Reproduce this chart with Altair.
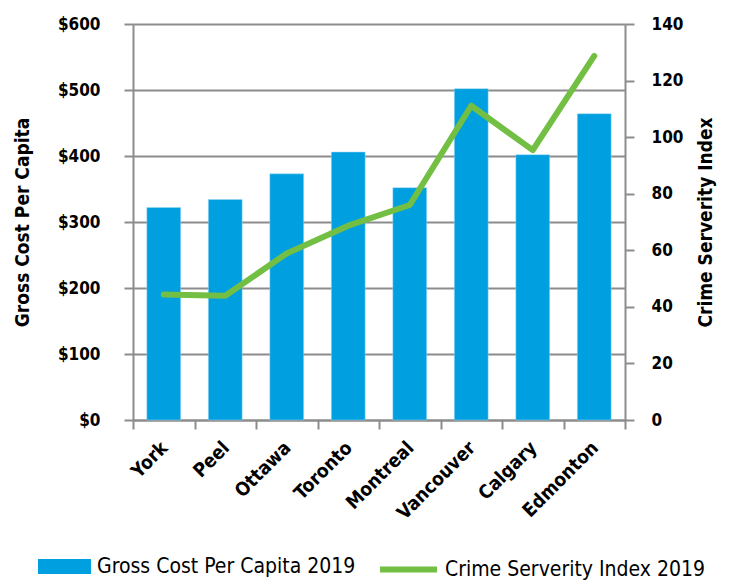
import altair as alt
import pandas as pd

cities = ["York", "Peel", "Ottawa", "Toronto", "Montreal", "Vancouver", "Calgary", "Edmonton"]
gross_cost = [322, 334, 373, 406, 352, 502, 402, 464]
crime_index = [44.4, 43.9, 58.9, 68.7, 76.0, 111.1, 95.4, 128.7]

bar_label = "Gross Cost Per Capita 2019"
line_label = "Crime Serverity Index 2019"
left_title = "Gross Cost Per Capita"
right_title = "Crime Serverity Index"

BLUE = "#009FDF"
GREEN = "#72BF44"
GRAY = "#8C8C8C"
FONT = "Liberation Sans Narrow, DejaVu Sans Condensed, DejaVu Sans, sans-serif"

df = pd.DataFrame({"city": cities, "cost": gross_cost, "csi": crime_index})

x_enc = alt.X(
    "city:N",
    sort=cities,
    title=None,
    scale=alt.Scale(paddingInner=0, paddingOuter=0),
    axis=alt.Axis(
        labelAngle=-45, labelAlign="right", labelBaseline="top",
        tickBand="extent", labelPadding=9, labelOffset=-6, grid=False,
        labelFontSize=19,
    ),
)

bars = (
    alt.Chart(df)
    .transform_calculate(series=f"'{bar_label}'")
    .mark_bar(stroke="#9fd8f2", strokeWidth=0.5, width=alt.RelativeBandSize(0.55))
    .encode(
        x=x_enc,
        y=alt.Y(
            "cost:Q",
            scale=alt.Scale(domain=[0, 600], nice=False),
            axis=alt.Axis(
                title=left_title, format="$.0f", values=[0, 100, 200, 300, 400, 500, 600],
                grid=True, labelPadding=24, titlePadding=25,
            ),
        ),
        color=alt.Color(
            "series:N",
            scale=alt.Scale(domain=[bar_label], range=[BLUE]),
            legend=alt.Legend(
                title=None, orient="none", legendX=-95, legendY=516,
                direction="horizontal",
                symbolType="M-1,-0.28H1V0.28H-1Z", symbolSize=2809,
                symbolStrokeWidth=0, labelFontSize=21, labelFont=FONT,
                labelLimit=400, symbolOpacity=1, labelOffset=6,
            ),
        ),
    )
)

line = (
    alt.Chart(df)
    .transform_calculate(series2=f"'{line_label}'")
    .mark_line(strokeWidth=6, strokeCap="round", strokeJoin="round")
    .encode(
        x=x_enc,
        y=alt.Y(
            "csi:Q",
            scale=alt.Scale(domain=[0, 140], nice=False),
            axis=alt.Axis(
                title=right_title, orient="right", values=[0, 20, 40, 60, 80, 100, 120, 140],
                grid=False, labelPadding=17, titlePadding=14, titleAngle=270,
                titleBaseline="top",
            ),
        ),
        stroke=alt.Stroke(
            "series2:N",
            scale=alt.Scale(domain=[line_label], range=[GREEN]),
            legend=alt.Legend(
                title=None, orient="none", legendX=244, legendY=514,
                direction="horizontal",
                symbolType="stroke", symbolSize=3249, symbolStrokeWidth=6,
                labelFontSize=21, labelFont=FONT, labelLimit=400, labelOffset=5,
            ),
        ),
    )
)

chart = (
    alt.layer(bars, line)
    .resolve_scale(y="independent")
    .properties(
        width=492, height=396,
        autosize=alt.AutoSizeParams(type="none"),
        padding={"left": 125, "top": 16, "right": 101, "bottom": 160},
    )
    .configure_view(stroke=None)
    .configure_axis(
        domainColor=GRAY, domainWidth=2, tickColor=GRAY, tickWidth=2, tickSize=9,
        gridColor=GRAY, gridWidth=2, labelFont=FONT, labelFontSize=17,
        labelFontWeight="bold", labelColor="#000", titleFont=FONT, titleFontSize=19,
        titleFontWeight="bold", titleColor="#000",
    )
    .configure_legend(symbolLimit=5, padding=0)
)

chart.save("out.html", embed_options={"renderer": "svg", "actions": False})
